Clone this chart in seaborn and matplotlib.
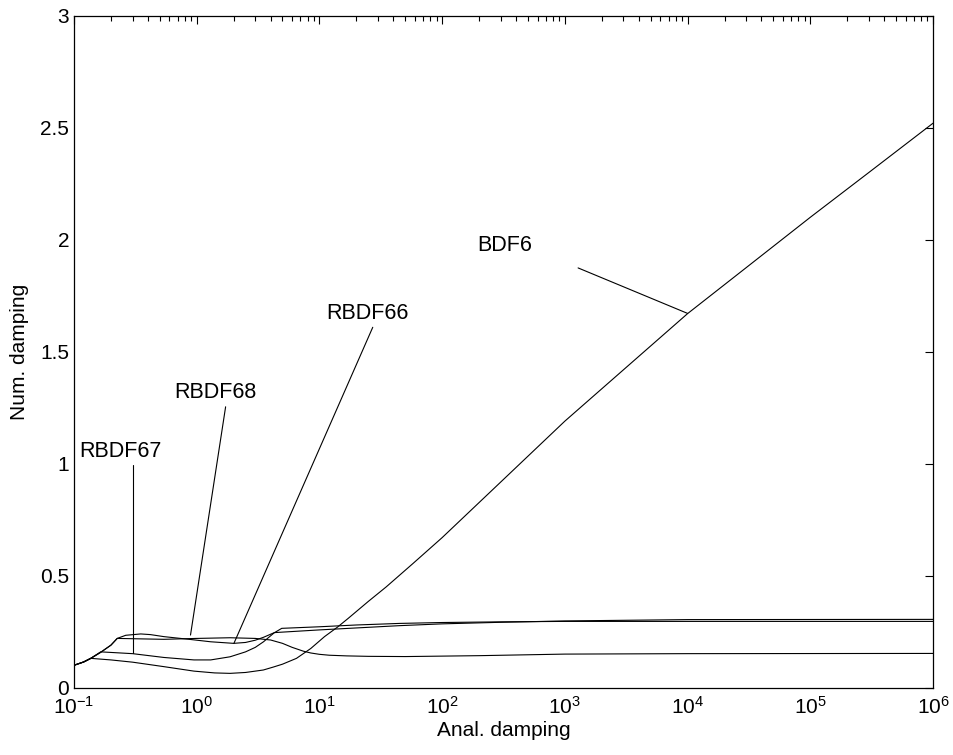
import numpy as np
import pandas as pd
import seaborn as sns
from matplotlib import pyplot as plt
from matplotlib.ticker import LogLocator, FormatStrFormatter, NullFormatter

# values
bdf6_x = [0.1, 0.12, 0.137, 0.2, 0.3, 0.54, 0.95, 1.4, 1.87, 2.5, 3.49, 4.2, 5, 6.5, 8.5, 11, 14, 17.2, 25, 35, 58, 100, 300, 1000, 3000, 1e4, 3e4, 1e5, 3e5, 1e6]
bdf6_y = [0.1, 0.115, 0.131, 0.124, 0.114, 0.094, 0.074, 0.066, 0.064, 0.068, 0.079, 0.092, 0.105, 0.131, 0.175, 0.228, 0.27, 0.31, 0.385, 0.45, 0.555, 0.67, 0.918, 1.19, 1.419, 1.67, 1.875, 2.10, 2.30, 2.52]

rbdf67_x = [0.1, 0.12, 0.137, 0.165, 0.3, 0.54, 0.95, 1.3, 1.87, 2.5, 3.0, 3.5, 4.3, 10, 45, 100, 300, 1000, 1e4, 1e6]
rbdf67_y = [0.1, 0.115, 0.131, 0.16, 0.152, 0.135, 0.124, 0.124, 0.138, 0.16, 0.18, 0.205, 0.246, 0.258, 0.277, 0.285, 0.292, 0.298, 0.304, 0.305]

rbdf66_x = [0.1, 0.12, 0.137, 0.165, 0.2, 0.225, 0.264, 0.35, 0.42, 0.54, 0.9, 1.3, 2.0, 2.5, 3.0, 3.5, 4.34, 4.93, 10, 20, 45, 100, 300, 1000, 1e4, 1e6]
rbdf66_y = [0.1, 0.115, 0.131, 0.158, 0.19, 0.22, 0.234, 0.24, 0.237, 0.228, 0.215, 0.205, 0.198, 0.202, 0.212, 0.225, 0.247, 0.265, 0.272, 0.28, 0.287, 0.291, 0.294, 0.296, 0.296, 0.296]

rbdf68_x = [0.1, 0.12, 0.137, 0.165, 0.2, 0.225, 0.54, 1.0, 1.87, 3.0, 4.0, 5.0, 6.0, 7.4, 8.5, 10, 12, 16.7, 25, 50, 200, 1000, 1e4, 1e6]
rbdf68_y = [0.1, 0.115, 0.131, 0.158, 0.19, 0.22, 0.216, 0.22, 0.223, 0.22, 0.213, 0.198, 0.18, 0.163, 0.155, 0.149, 0.145, 0.142, 0.14, 0.139, 0.143, 0.15, 0.152, 0.153]

# label, text position, line start, line end (data coords)
labels = [
    ("BDF6", (326, 1.976), (1282, 1.874), (1.0e4, 1.671)),
    ("RBDF66", (24.4, 1.672), (27.2, 1.609), (2.01, 0.198)),
    ("RBDF68", (1.43, 1.317), (1.72, 1.254), (0.89, 0.235)),
    ("RBDF67", (0.24, 1.054), (0.304, 0.994), (0.304, 0.155)),
]

df = pd.concat([
    pd.DataFrame({"x": bdf6_x, "y": bdf6_y, "method": "BDF6"}),
    pd.DataFrame({"x": rbdf67_x, "y": rbdf67_y, "method": "RBDF67"}),
    pd.DataFrame({"x": rbdf66_x, "y": rbdf66_y, "method": "RBDF66"}),
    pd.DataFrame({"x": rbdf68_x, "y": rbdf68_y, "method": "RBDF68"}),
])

sns.set_style("white")
plt.rcParams["font.family"] = ["Liberation Sans", "DejaVu Sans"]
plt.rcParams["mathtext.fontset"] = "custom"
plt.rcParams["mathtext.rm"] = "Liberation Sans"
plt.rcParams["mathtext.it"] = "Liberation Sans"
plt.rcParams["text.color"] = "black"
plt.rcParams["axes.labelcolor"] = "black"
plt.rcParams["xtick.color"] = "black"
plt.rcParams["ytick.color"] = "black"

fig = plt.figure(figsize=(9.54, 7.55), dpi=100)
ax = fig.add_axes([74 / 954, 67.3 / 755, 859 / 954, 672 / 755])

sns.lineplot(data=df, x="x", y="y", units="method", estimator=None, sort=False,
             color="black", linewidth=0.8, ax=ax)

for name, txt, p0, p1 in labels:
    ax.text(txt[0], txt[1], name, ha="center", va="center", fontsize=15.5, color="black")
    ax.plot([p0[0], p1[0]], [p0[1], p1[1]], color="black", linewidth=0.8)

ax.set_xscale("log")
ax.set_xlim(0.1, 1e6)
ax.set_ylim(0, 3)
ax.set_yticks(np.arange(0, 3.01, 0.5))
ax.yaxis.set_major_formatter(FormatStrFormatter("%g"))
ax.xaxis.set_major_locator(LogLocator(base=10, numticks=20))
ax.xaxis.set_minor_locator(LogLocator(base=10, subs=np.arange(2, 10), numticks=20))
ax.xaxis.set_minor_formatter(NullFormatter())
ax.tick_params(which="both", direction="in", top=True, right=True, labelsize=15, width=0.8,
               colors="black", labelcolor="black")
ax.tick_params(which="major", length=6)
ax.tick_params(which="minor", length=3.5)
ax.tick_params(axis="x", which="major", pad=6)
for s in ax.spines.values():
    s.set_color("black")
    s.set_linewidth(0.9)

ax.set_xlabel("Anal. damping", fontsize=15, labelpad=2, color="black")
ax.set_ylabel("Num. damping", fontsize=15, labelpad=8, color="black")

fig.savefig("out.png", dpi=100)
